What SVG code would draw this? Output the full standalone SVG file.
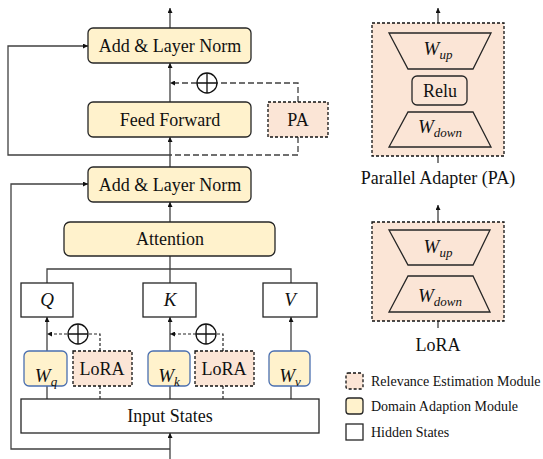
<svg xmlns="http://www.w3.org/2000/svg" width="543" height="459" viewBox="0 0 543 459">
<style>
text{font-family:'Liberation Serif','Times New Roman','DejaVu Serif',serif}
.t{font-size:18px;fill:#111;text-anchor:middle}
.m{font-style:italic;font-size:19px;fill:#111;text-anchor:middle}
.sub{font-size:13px}
.lg{font-size:14px;fill:#111}
.dam{fill:#FFF2CC;stroke:#262626;stroke-width:1.3}
.wbox{fill:#FFF2CC;stroke:#4A6FB0;stroke-width:1.3}
.rem{fill:#FBE5D6;stroke:#111;stroke-width:1.3;stroke-dasharray:3,2}
.hid{fill:#fff;stroke:#262626;stroke-width:1.3}
.trap{fill:none;stroke:#262626;stroke-width:1.3}
.c{fill:none;stroke:#404040;stroke-width:1.3}
.d{fill:none;stroke:#404040;stroke-width:1.3;stroke-dasharray:6,3}
.d2{fill:none;stroke:#262626;stroke-width:1.2;stroke-dasharray:3,2}
.circ{fill:#fff;stroke:#111;stroke-width:1.3}
</style>
<defs>
<marker id="ah" viewBox="0 0 6 6" refX="6" refY="3" markerWidth="5" markerHeight="5" orient="auto" markerUnits="userSpaceOnUse">
<path d="M0,0 L6,3 L0,6 z" fill="#111"/>
</marker>
</defs>

<g id="connectors">
<line class="c" x1="170" y1="28" x2="170" y2="8" marker-end="url(#ah)"/>
<line class="c" x1="170" y1="102" x2="170" y2="63" marker-end="url(#ah)"/>
<line class="c" x1="170" y1="167" x2="170" y2="137" marker-end="url(#ah)"/>
<polyline class="c" points="170,155 8,155 8,46 88,46" marker-end="url(#ah)"/>
<polyline class="d" points="298,102 298,83 217,83"/>
<line class="d" x1="197" y1="83" x2="170" y2="83" marker-end="url(#ah)"/>
<polyline class="d" points="298,137 298,155 170,155"/>
<line class="c" x1="170" y1="222" x2="170" y2="202" marker-end="url(#ah)"/>
<polyline class="c" points="170,449 11,449 11,184 88,184" marker-end="url(#ah)"/>
<line class="c" x1="170" y1="459" x2="170" y2="433" marker-end="url(#ah)"/>
<line class="c" x1="170" y1="256" x2="170" y2="283"/>
<polyline class="c" points="47,283 47,269 291,269 291,283"/>
<line class="c" x1="47" y1="351" x2="47" y2="317" marker-end="url(#ah)"/>
<line class="c" x1="170" y1="351" x2="170" y2="317" marker-end="url(#ah)"/>
<line class="c" x1="291" y1="351" x2="291" y2="317" marker-end="url(#ah)"/>
<line class="c" x1="47" y1="399" x2="47" y2="386"/>
<line class="c" x1="170" y1="399" x2="170" y2="386"/>
<line class="c" x1="291" y1="399" x2="291" y2="386"/>
<line class="d2" x1="100" y1="399" x2="100" y2="386"/>
<line class="d2" x1="223" y1="399" x2="223" y2="386"/>
<polyline class="d2" points="100,351 100,334 88,334"/>
<line class="d2" x1="67" y1="334" x2="47" y2="334" marker-end="url(#ah)"/>
<polyline class="d2" points="223,351 223,334 216,334"/>
<line class="d2" x1="196" y1="334" x2="170" y2="334" marker-end="url(#ah)"/>
<line class="c" x1="438" y1="23" x2="438" y2="8" marker-end="url(#ah)"/>
<line class="c" x1="438" y1="156" x2="438" y2="163"/>
<line class="c" x1="438" y1="222" x2="438" y2="205" marker-end="url(#ah)"/>
<line class="c" x1="438" y1="321" x2="438" y2="328"/>
</g>

<g id="sum1"><circle class="circ" cx="207" cy="83" r="10"/><path d="M197,83 H217 M207,73 V93" stroke="#111" stroke-width="1.3"/></g>
<g id="sum2"><circle class="circ" cx="78" cy="334" r="10"/><path d="M68,334 H88 M78,324 V344" stroke="#111" stroke-width="1.3"/></g>
<g id="sum3"><circle class="circ" cx="206" cy="334" r="10"/><path d="M196,334 H216 M206,324 V344" stroke="#111" stroke-width="1.3"/></g>

<g id="addnorm1"><rect class="dam" x="88" y="28" width="163" height="35" rx="5"/><text class="t" x="170" y="52">Add &amp; Layer Norm</text></g>
<g id="feedforward"><rect class="dam" x="88" y="102" width="163" height="35" rx="5"/><text class="t" x="170" y="126">Feed Forward</text></g>
<g id="pa"><rect class="rem" x="268" y="102" width="60" height="35"/><text class="t" x="298" y="126">PA</text></g>
<g id="addnorm2"><rect class="dam" x="88" y="167" width="163" height="35" rx="5"/><text class="t" x="170" y="191">Add &amp; Layer Norm</text></g>
<g id="attention"><rect class="dam" x="64" y="222" width="211" height="34" rx="6"/><text class="t" x="170" y="245">Attention</text></g>
<g id="q"><rect class="hid" x="21" y="283" width="52" height="34"/><text class="m" x="47" y="306">Q</text></g>
<g id="k"><rect class="hid" x="143" y="283" width="53" height="34"/><text class="m" x="170" y="306">K</text></g>
<g id="v"><rect class="hid" x="263" y="283" width="54" height="34"/><text class="m" x="290" y="306">V</text></g>
<g id="wq"><rect class="wbox" x="24" y="351" width="43" height="35" rx="5"/><text class="m" x="46" y="382">W<tspan class="sub" dy="4">q</tspan></text></g>
<g id="lora1"><rect class="rem" x="73" y="351" width="59" height="35"/><text class="t" x="102" y="375">LoRA</text></g>
<g id="wk"><rect class="wbox" x="148" y="351" width="42" height="35" rx="5"/><text class="m" x="169" y="382">W<tspan class="sub" dy="4">k</tspan></text></g>
<g id="lora2"><rect class="rem" x="195" y="351" width="59" height="35"/><text class="t" x="224" y="375">LoRA</text></g>
<g id="wv"><rect class="wbox" x="269" y="351" width="41" height="35" rx="5"/><text class="m" x="290" y="382">W<tspan class="sub" dy="4">v</tspan></text></g>
<g id="inputstates"><rect class="hid" x="21" y="399" width="298" height="34"/><text class="t" x="170" y="422">Input States</text></g>

<g id="pa-detail">
<rect class="rem" x="372" y="23" width="132" height="133"/>
<polygon class="trap" points="389,33 491,33 473,69 408,69"/>
<text class="m" x="438" y="55">W<tspan class="sub" dy="4">up</tspan></text>
<rect class="trap" x="412" y="76" width="55" height="29" rx="5"/>
<text class="t" x="440" y="97">Relu</text>
<polygon class="trap" points="408,112 473,112 491,147 389,147"/>
<text class="m" x="440" y="133">W<tspan class="sub" dy="4">down</tspan></text>
<text class="t" x="438" y="184">Parallel Adapter (PA)</text>
</g>

<g id="lora-detail">
<rect class="rem" x="372" y="222" width="132" height="99"/>
<polygon class="trap" points="389,230 490,230 473,265 408,265"/>
<text class="m" x="438" y="253">W<tspan class="sub" dy="4">up</tspan></text>
<polygon class="trap" points="408,276 473,276 490,312 389,312"/>
<text class="m" x="440" y="302">W<tspan class="sub" dy="4">down</tspan></text>
<text class="t" x="438" y="351">LoRA</text>
</g>

<g id="legend">
<rect class="rem" x="346" y="373" width="17" height="16" rx="2"/>
<text class="lg" x="371" y="386">Relevance Estimation Module</text>
<rect class="dam" x="346" y="398" width="17" height="16" rx="3"/>
<text class="lg" x="371" y="411">Domain Adaption Module</text>
<rect class="hid" x="346" y="424" width="17" height="16"/>
<text class="lg" x="371" y="437">Hidden States</text>
</g>
</svg>
